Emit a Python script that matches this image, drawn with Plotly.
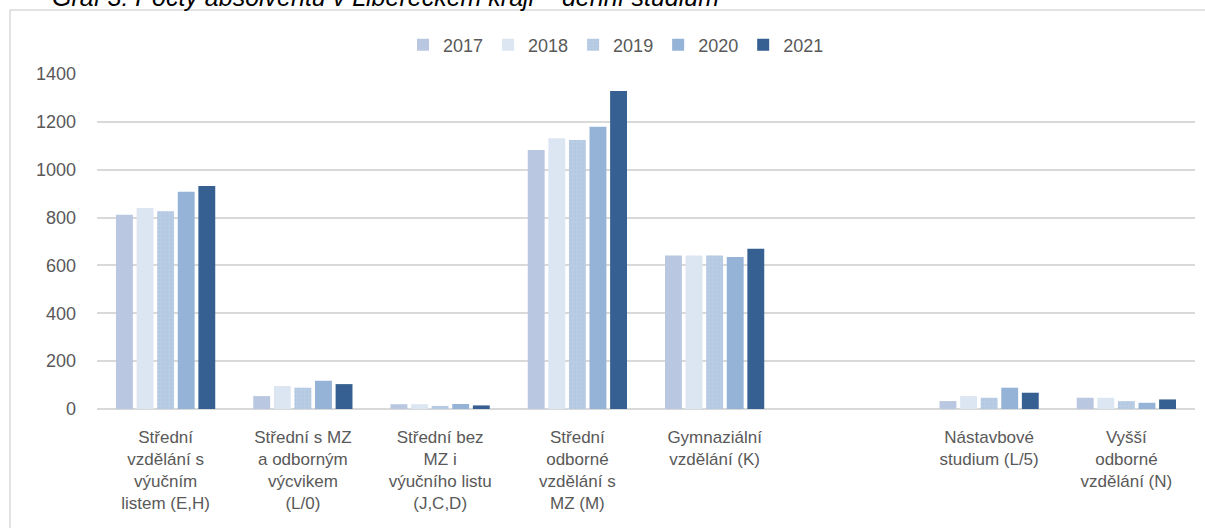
import plotly.graph_objects as go

categories = [
    "Střední<br>vzdělání s<br>výučním<br>listem (E,H)",
    "Střední s MZ<br>a odborným<br>výcvikem<br>(L/0)",
    "Střední bez<br>MZ i<br>výučního listu<br>(J,C,D)",
    "Střední<br>odborné<br>vzdělání s<br>MZ (M)",
    "Gymnaziální<br>vzdělání (K)",
    " ",
    "Nástavbové<br>studium (L/5)",
    "Vyšší<br>odborné<br>vzdělání (N)",
]
years = ["2017", "2018", "2019", "2020", "2021"]
v2017 = [812, 54, 20, 1082, 642, None, 33, 47]
v2018 = [840, 96, 20, 1131, 642, None, 54, 47]
v2019 = [826, 89, 13, 1124, 642, None, 47, 33]
v2020 = [908, 118, 21, 1180, 635, None, 89, 26]
v2021 = [932, 104, 15, 1329, 670, None, 68, 40]
series = [v2017, v2018, v2019, v2020, v2021]
colors = ["#B9C7E1", "#DCE6F2", "#B8CCE4", "#95B3D7", "#366092"]
title_text = "Graf 3: Počty absolventů v Libereckém kraji – denní studium"

FONT = "Liberation Sans, Arial, sans-serif"
fig = go.Figure()
for i, (yr, vals) in enumerate(zip(years, series)):
    marker = dict(color=colors[i], line=dict(width=0))
    if yr == "2019":
        marker["pattern"] = dict(shape=".", fgcolor="#A7BFDD", size=4, solidity=0.2)
    fig.add_trace(go.Bar(name=yr, x=categories, y=vals, marker=marker))

W, H = 1205, 528
L, R, T, B = 97, 10, 74, 119
pw, ph = W - L - R, H - T - B

def px(x):
    return (x - L) / pw

def py(y):
    return (H - B - y) / ph

fig.update_layout(
    width=W, height=H,
    margin=dict(l=L, r=R, t=T, b=B, pad=0),
    paper_bgcolor="white", plot_bgcolor="white",
    barmode="group", bargap=0.25, bargroupgap=0.18,
    font=dict(family=FONT, size=16, color="#595959"),
    showlegend=True,
    legend=dict(orientation="h", x=px(616), xanchor="center", y=py(45), yanchor="middle",
                font=dict(size=18, color="#595959"), bgcolor="rgba(0,0,0,0)",
                itemwidth=30, traceorder="normal"),
    xaxis=dict(type="category", categoryorder="array", categoryarray=categories,
               showgrid=False, showline=False, ticks="", tickangle=0,
               tickfont=dict(size=17, color="#595959"), ticklabelstandoff=16,
               fixedrange=True),
    yaxis=dict(range=[0, 1400], dtick=200, showgrid=True, gridcolor="#D9D9D9", gridwidth=1.5,
               zeroline=True, zerolinecolor="#D9D9D9", zerolinewidth=1.5,
               showline=False, ticks="", tickfont=dict(size=18, color="#595959"),
               ticklabelstandoff=20, fixedrange=True),
    shapes=[dict(type="rect", xref="paper", yref="paper",
                 x0=px(10), x1=px(1215), y0=py(540), y1=py(10),
                 line=dict(color="#D9D9D9", width=1.5), fillcolor="rgba(0,0,0,0)", layer="below")],
    annotations=[dict(text="<i>" + title_text + "</i>", xref="paper", yref="paper",
                      x=px(50), y=py(-3), xanchor="left", yanchor="middle", showarrow=False,
                      font=dict(size=25, color="#000000", family=FONT))],
)

fig.write_html("out.html", config={"displayModeBar": False},
               post_script="document.body.style.margin='0';document.body.style.overflow='hidden';")
